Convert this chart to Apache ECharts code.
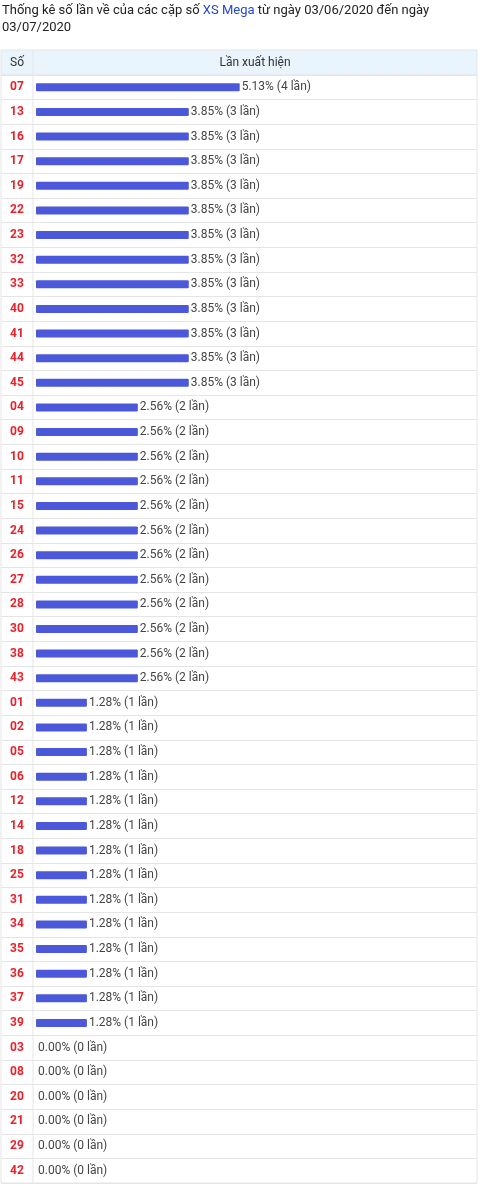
<!DOCTYPE html>
<html>
<head>
<meta charset="utf-8">
<script src="https://cdn.jsdelivr.net/npm/echarts@6/dist/echarts.min.js"></script>
<style>
  html, body { margin: 0; padding: 0; background: #fff; }
  #chart { width: 480px; height: 1186px; }
</style>
</head>
<body>
<div id="chart"></div>
<script>
// so thu tu theo bang
var numbers = ['07', '13', '16', '17', '19', '22', '23', '32', '33', '40', '41', '44', '45',
    '04', '09', '10', '11', '15', '24', '26', '27', '28', '30', '38', '43',
    '01', '02', '05', '06', '12', '14', '18', '25', '31', '34', '35', '36', '37', '39',
    '03', '08', '20', '21', '29', '42'];
// so lan xuat hien
var counts = [4, 3, 3, 3, 3, 3, 3, 3, 3, 3, 3, 3, 3,
    2, 2, 2, 2, 2, 2, 2, 2, 2, 2, 2, 2,
    1, 1, 1, 1, 1, 1, 1, 1, 1, 1, 1, 1, 1, 1,
    0, 0, 0, 0, 0, 0];
var titleLine1 = 'Thống kê số lần về của các cặp số {b|XS Mega} từ ngày 03/06/2020 đến ngày';
var titleLine2 = '03/07/2020';
var headerNo = 'Số';
var headerCount = 'Lần xuất hiện';

var total = 0;
for (var i = 0; i < counts.length; i++) total += counts[i];

var lineColor = '#e5e5e5';
var font = 'Roboto, "Noto Sans", sans-serif';

var chart = echarts.init(document.getElementById('chart'), null, { renderer: 'canvas' });

var option = {
    animation: false,
    backgroundColor: '#fff',
    textStyle: { fontFamily: font },
    title: {
        left: 2,
        top: 2,
        padding: 0,
        text: titleLine1 + '\n' + titleLine2,
        textStyle: {
            fontFamily: font,
            fontSize: 13,
            fontWeight: 'normal',
            color: '#222',
            lineHeight: 17,
            rich: {
                b: { color: '#2446c9', fontSize: 13, fontFamily: font, lineHeight: 17 }
            }
        }
    },
    graphic: [
        {
            type: 'rect',
            shape: { x: 1, y: 50, width: 476, height: 25 },
            style: { fill: '#eaf4fc', stroke: lineColor, lineWidth: 1 }
        },
        {
            type: 'line',
            shape: { x1: 33, y1: 50, x2: 33, y2: 1183 },
            style: { stroke: lineColor, lineWidth: 1 }
        },
        {
            type: 'text',
            x: 17, y: 62.5,
            style: { text: headerNo, fill: '#333', font: '12px ' + font, align: 'center', verticalAlign: 'middle' }
        },
        {
            type: 'text',
            x: 255, y: 62.5,
            style: { text: headerCount, fill: '#333', font: '12px ' + font, align: 'center', verticalAlign: 'middle' }
        }
    ],
    grid: [
        { left: 1, right: 3, top: 75, bottom: 3, show: true, borderColor: lineColor, borderWidth: 1, backgroundColor: 'transparent' },
        { left: 36, right: 3, top: 75, bottom: 3 }
    ],
    xAxis: [
        { gridIndex: 0, type: 'value', show: false, min: 0, max: 1 },
        { gridIndex: 1, type: 'value', show: false, min: 0, max: 8.66 }
    ],
    yAxis: [
        {
            gridIndex: 0,
            type: 'category',
            data: numbers,
            inverse: true,
            axisLine: { show: false },
            axisTick: { show: false },
            axisLabel: { show: false },
            splitLine: { show: true, lineStyle: { color: lineColor, width: 1 } }
        },
        {
            gridIndex: 1,
            type: 'category',
            data: numbers,
            inverse: true,
            axisLine: { show: false },
            axisTick: { show: false },
            splitLine: { show: false },
            axisLabel: {
                margin: 19,
                align: 'center',
                color: '#e8212b',
                fontWeight: 'bold',
                fontSize: 12,
                fontFamily: font
            }
        }
    ],
    series: [
        {
            type: 'bar',
            xAxisIndex: 1,
            yAxisIndex: 1,
            data: counts,
            barWidth: 8,
            itemStyle: { color: '#4b58d9', borderRadius: 1 },
            label: {
                show: true,
                position: 'right',
                distance: 2,
                color: '#444',
                fontSize: 12,
                fontFamily: font,
                formatter: function (p) {
                    return (p.value / total * 100).toFixed(2) + '% (' + p.value + ' lần)';
                }
            }
        }
    ]
};

chart.setOption(option);
</script>
</body>
</html>
